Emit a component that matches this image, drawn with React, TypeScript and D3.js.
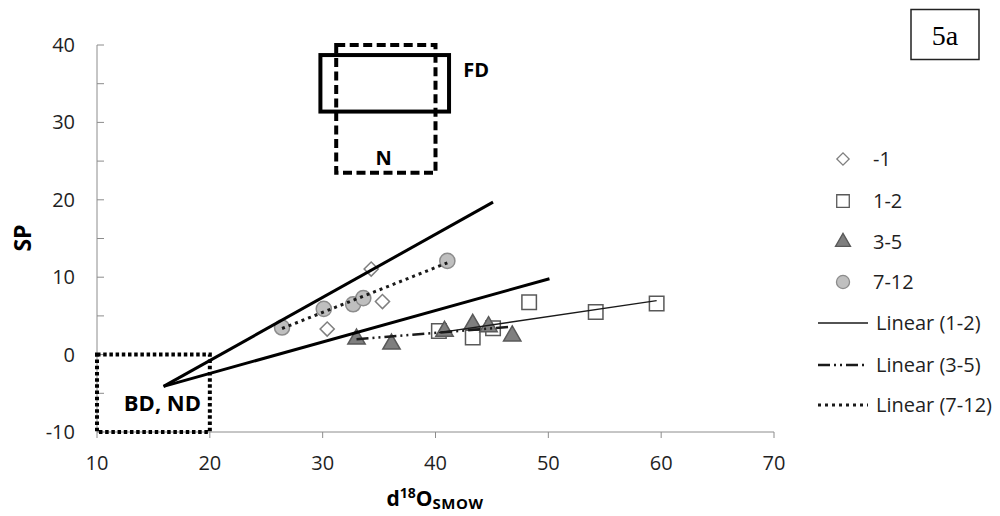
import React, { useEffect, useRef } from 'react';
import * as d3 from 'd3';

// series (d18O, SP)
const seriesNames = ['-1', '1-2', '3-5', '7-12'];
const xMinus1 = [30.4, 34.3, 35.3];
const yMinus1 = [3.3, 11.05, 6.85];
const x1to2 = [40.3, 43.3, 45.1, 48.3, 54.2, 59.6];
const y1to2 = [3.05, 2.2, 3.4, 6.75, 5.5, 6.6];
const x3to5 = [33.0, 36.1, 40.8, 43.3, 44.7, 46.8];
const y3to5 = [2.2, 1.55, 3.2, 4.1, 3.8, 2.6];
const x7to12 = [26.4, 30.1, 32.7, 33.6, 41.05];
const y7to12 = [3.5, 5.9, 6.5, 7.3, 12.1];

const xTicks = [10, 20, 30, 40, 50, 60, 70];
const yTicks = [-10, 0, 10, 20, 30, 40];
const yMinorTicks = [-5, 5, 15, 25, 35];

// hand drawn regions and guide lines (data units)
const regionNames = ['FD', 'N', 'BD, ND'];
const regionX = [[29.8, 41.2], [31.2, 40], [10, 20]];
const regionY = [[31.4, 38.7], [23.5, 40], [-10, 0]];
const regionLabelX = [43.6, 35.4, 15.8];
const regionLabelY = [36.8, 25.4, -6.3];
const guideStart = [15.9, -4.1];
const guideEnds = [[45.1, 19.7], [50.1, 9.8]];

const W = 1000;
const H = 516;
const FONT = '"Open Sans", sans-serif';

const fit = (xs: number[], ys: number[]) => {
  const mx = d3.mean(xs)!;
  const my = d3.mean(ys)!;
  const sxy = d3.sum(xs, (x, i) => (x - mx) * (ys[i] - my));
  const sxx = d3.sum(xs, (x) => (x - mx) ** 2);
  const b = sxy / sxx;
  const a = my - b * mx;
  const [x0, x1] = d3.extent(xs) as [number, number];
  return [[x0, a + b * x0], [x1, a + b * x1]];
};

const App = () => {
  const ref = useRef<SVGSVGElement>(null);

  useEffect(() => {
    const svg = d3.select(ref.current);
    svg.selectAll('*').remove();

    const x = d3.scaleLinear().domain([10, 70]).range([97, 774]);
    const y = d3.scaleLinear().domain([-10, 40]).range([432, 45]);
    const axisColor = '#8c8c8c';
    const textColor = '#1f1f1f';

    // axes
    svg.append('line').attr('x1', x(10)).attr('x2', x(70)).attr('y1', y(-10)).attr('y2', y(-10))
      .attr('stroke', axisColor).attr('stroke-width', 1);
    svg.append('line').attr('x1', x(10)).attr('x2', x(10)).attr('y1', y(-10)).attr('y2', y(40))
      .attr('stroke', axisColor).attr('stroke-width', 1);

    svg.selectAll('.xt').data(xTicks).enter().append('line')
      .attr('x1', d => x(d)).attr('x2', d => x(d)).attr('y1', y(-10)).attr('y2', y(-10) + 6)
      .attr('stroke', axisColor);
    svg.selectAll('.yt').data([...yTicks, ...yMinorTicks]).enter().append('line')
      .attr('x1', x(10)).attr('x2', x(10) + 7).attr('y1', d => y(d)).attr('y2', d => y(d))
      .attr('stroke', axisColor);

    svg.selectAll('.xl').data(xTicks).enter().append('text')
      .attr('x', d => x(d)).attr('y', 470).attr('text-anchor', 'middle')
      .style('font-family', FONT).style('font-size', '20px').attr('fill', textColor)
      .text(d => d);
    svg.selectAll('.yl').data(yTicks).enter().append('text')
      .attr('x', 75).attr('y', d => y(d)).attr('dy', '0.35em').attr('text-anchor', 'end')
      .style('font-family', FONT).style('font-size', '20px').attr('fill', textColor)
      .text(d => d);

    // axis titles
    svg.append('text')
      .attr('transform', 'translate(31,238) rotate(-90)').attr('text-anchor', 'middle')
      .style('font-family', FONT).style('font-size', '23px').style('font-weight', 'bold')
      .text('SP');
    const xt = svg.append('text').attr('x', 435).attr('y', 506).attr('text-anchor', 'middle')
      .style('font-family', FONT).style('font-weight', 'bold').style('font-size', '21px');
    xt.append('tspan').text('d');
    xt.append('tspan').attr('dy', -8).style('font-size', '14px').text('18');
    xt.append('tspan').attr('dy', 8).text('O');
    xt.append('tspan').attr('dy', 3).style('font-size', '15px').style('letter-spacing', '0.5px').text('SMOW');

    // markers
    const markerSymbols = [d3.symbolSquare, d3.symbolSquare, d3.symbolTriangle, d3.symbolCircle];
    const markerSizes = [100, 210, 130, 180];
    const markerRotate = [45, 0, 0, 0];
    const markerFill = ['#ffffff', '#ffffff', '#7f7f7f', '#bfbfbf'];
    const markerStroke = ['#7f7f7f', '#595959', '#595959', '#8c8c8c'];
    const xs = [xMinus1, x1to2, x3to5, x7to12];
    const ys = [yMinus1, y1to2, y3to5, y7to12];

    const symbolPath = (i: number, scale = 1) =>
      d3.symbol().type(markerSymbols[i]).size(markerSizes[i] * scale)();

    xs.forEach((sx, i) => {
      svg.append('g').selectAll('path').data(sx).enter().append('path')
        .attr('d', symbolPath(i))
        .attr('transform', (d, j) =>
          `translate(${x(d)},${y(ys[i][j]) + (i === 2 ? 1.5 : 0)}) rotate(${markerRotate[i]})`)
        .attr('fill', markerFill[i]).attr('stroke', markerStroke[i]).attr('stroke-width', 1.5);
    });

    // trendlines
    const trendStyles = [
      { idx: 1, name: 'Linear (1-2)', dash: null, w: 1.3 },
      { idx: 2, name: 'Linear (3-5)', dash: '12,4,2,4,2,4', w: 2.5 },
      { idx: 3, name: 'Linear (7-12)', dash: '3,4', w: 3 },
    ];
    const line = d3.line<number[]>().x(d => x(d[0])).y(d => y(d[1]));
    trendStyles.forEach(t => {
      svg.append('path').attr('d', line(fit(xs[t.idx], ys[t.idx])))
        .attr('fill', 'none').attr('stroke', '#1a1a1a').attr('stroke-width', t.w)
        .attr('stroke-dasharray', t.dash);
    });

    // regions
    const regionDash = [null, '9,4.5', '3.5,2.7'];
    regionNames.forEach((name, i) => {
      svg.append('rect')
        .attr('x', x(regionX[i][0])).attr('y', y(regionY[i][1]))
        .attr('width', x(regionX[i][1]) - x(regionX[i][0]))
        .attr('height', y(regionY[i][0]) - y(regionY[i][1]))
        .attr('fill', 'none').attr('stroke', '#000').attr('stroke-width', 4)
        .attr('stroke-dasharray', regionDash[i]);
      svg.append('text')
        .attr('x', x(regionLabelX[i])).attr('y', y(regionLabelY[i])).attr('dy', '0.35em')
        .attr('text-anchor', 'middle')
        .style('font-family', FONT).style('font-weight', 'bold')
        .style('font-size', i === 2 ? '22px' : '20px')
        .text(name);
    });

    guideEnds.forEach(e => {
      svg.append('path').attr('d', line([guideStart, e]))
        .attr('stroke', '#000').attr('stroke-width', 3).attr('fill', 'none');
    });

    // legend
    const legendRows = [159, 201, 242, 282];
    seriesNames.forEach((name, i) => {
      svg.append('path').attr('d', symbolPath(i, 0.75))
        .attr('transform', `translate(843,${legendRows[i]}) rotate(${markerRotate[i]})`)
        .attr('fill', markerFill[i]).attr('stroke', markerStroke[i]).attr('stroke-width', 1.3);
      svg.append('text').attr('x', 873).attr('y', legendRows[i]).attr('dy', '0.35em')
        .style('font-family', FONT).style('font-size', '20px').attr('fill', textColor)
        .text(name);
    });
    const trendRows = [323, 365, 405];
    trendStyles.forEach((t, i) => {
      svg.append('line').attr('x1', 818).attr('x2', 868).attr('y1', trendRows[i]).attr('y2', trendRows[i])
        .attr('stroke', '#1a1a1a').attr('stroke-width', t.w).attr('stroke-dasharray', t.dash);
      svg.append('text').attr('x', 876).attr('y', trendRows[i]).attr('dy', '0.35em')
        .style('font-family', FONT).style('font-size', '20px').attr('fill', textColor)
        .text(t.name);
    });

    // panel tag
    svg.append('rect').attr('x', 911).attr('y', 9.5).attr('width', 68).attr('height', 50)
      .attr('fill', '#fff').attr('stroke', '#222').attr('stroke-width', 1.5);
    svg.append('text').attr('x', 945).attr('y', 45).attr('text-anchor', 'middle')
      .style('font-family', '"Liberation Serif", serif').style('font-size', '28px')
      .text('5a');
  }, []);

  return (
    <svg ref={ref} width={W} height={H}
      style={{ position: 'absolute', left: 0, top: 0, background: '#fff' }} />
  );
};

export default App;
